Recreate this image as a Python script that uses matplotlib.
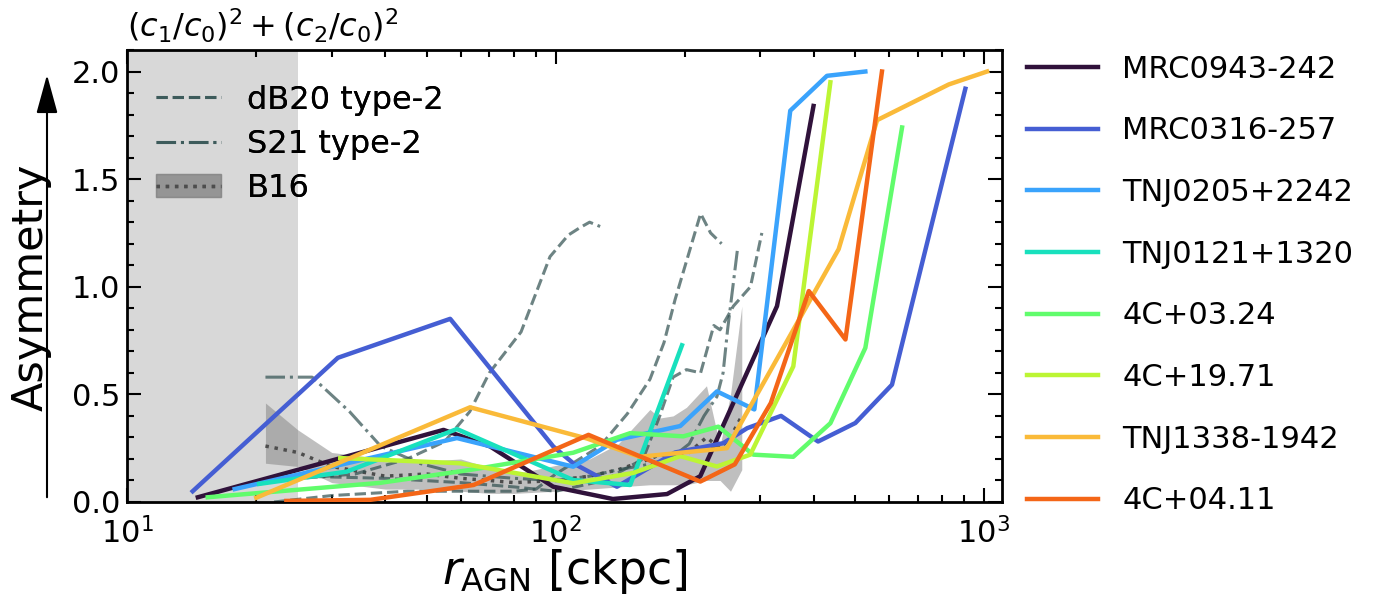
import numpy as np
import matplotlib
matplotlib.use('Agg')
import matplotlib.pyplot as plt
from matplotlib.lines import Line2D
from matplotlib.patches import Patch
from matplotlib.ticker import MultipleLocator, LogLocator, NullFormatter

# ---------------- data ----------------
names = ['MRC0943-242', 'MRC0316-257', 'TNJ0205+2242', 'TNJ0121+1320',
         '4C+03.24', '4C+19.71', 'TNJ1338-1942', '4C+04.11']

r_mrc0943 = [14.6, 54.7, 70.3, 98.7, 136, 182, 217.6, 328.7, 400]
a_mrc0943 = [0.022, 0.335, 0.258, 0.071, 0.014, 0.037, 0.12, 0.91, 1.84]

r_mrc0316 = [14.2, 31.0, 56.7, 98.7, 109.9, 139, 190, 246, 280, 336, 410, 501, 610, 905]
a_mrc0316 = [0.05, 0.67, 0.851, 0.258, 0.18, 0.071, 0.23, 0.273, 0.343, 0.40, 0.281, 0.367, 0.545, 1.92]

r_tnj0205 = [17.8, 58.8, 109.9, 139, 195.4, 238, 291, 353, 430, 528.6]
a_tnj0205 = [0.06, 0.297, 0.164, 0.289, 0.353, 0.514, 0.43, 1.818, 1.98, 2.0]

r_tnj0121 = [20.3, 32.5, 58.8, 109.9, 149.3, 197.2]
a_tnj0121 = [0.084, 0.141, 0.339, 0.102, 0.079, 0.728]

r_4c0324 = [15.4, 38.9, 63.1, 109.9, 149.3, 198.6, 239.8, 289.3, 358.8, 438, 528.6, 644]
a_4c0324 = [0.022, 0.089, 0.149, 0.229, 0.32, 0.305, 0.35, 0.22, 0.21, 0.366, 0.716, 1.74]

r_4c1971 = [31.4, 59.8, 109.9, 151.7, 195.4, 238, 284.7, 358.8, 438]
a_4c1971 = [0.204, 0.18, 0.087, 0.135, 0.213, 0.165, 0.22, 0.63, 1.95]

r_tnj1338 = [20.0, 63.1, 118.3, 157, 251, 458, 563, 828, 1017]
a_tnj1338 = [0.02, 0.44, 0.295, 0.21, 0.25, 1.175, 1.774, 1.94, 2.0]

r_4c0411 = [23.5, 36.9, 64.3, 119.3, 217.6, 262, 318, 390, 475, 578]
a_4c0411 = [0.005, 0.01, 0.079, 0.312, 0.095, 0.175, 0.46, 0.98, 0.755, 2.0]

# dB20 type-2 (dashed)
r_db20_a = [22, 34, 45, 55, 63, 70, 83, 97, 107, 114, 120, 127]
a_db20_a = [0.10, 0.13, 0.20, 0.28, 0.42, 0.60, 0.79, 1.14, 1.24, 1.275, 1.30, 1.28]
r_db20_b = [22, 30, 45, 60, 80, 90, 100, 127, 147, 166, 179, 190, 218, 230, 244]
a_db20_b = [0.0, 0.03, 0.05, 0.05, 0.05, 0.06, 0.13, 0.26, 0.41, 0.57, 0.74, 0.94, 1.34, 1.25, 1.20]
r_db20_c = [25, 40, 60, 80, 100, 130, 160, 175, 188, 202, 218, 234, 242, 260, 285, 303]
a_db20_c = [0.12, 0.11, 0.09, 0.07, 0.05, 0.10, 0.20, 0.40, 0.58, 0.615, 0.60, 0.82, 0.80, 0.91, 1.0, 1.25]

# S21 type-2 (dash-dot)
r_s21 = [21, 27, 33, 39, 48, 60, 80, 100, 120, 140, 160, 185, 205, 222, 238, 246, 252, 266]
a_s21 = [0.58, 0.58, 0.42, 0.26, 0.18, 0.13, 0.11, 0.10, 0.12, 0.15, 0.17, 0.20, 0.27, 0.40, 0.49, 0.60, 0.80, 1.18]

# B16 (dotted median + band)
r_b16 = [21, 25, 30, 40, 50, 60, 70, 80, 100, 120, 140, 166, 175, 188, 202, 225, 242, 256, 272]
a_b16 = [0.26, 0.23, 0.165, 0.12, 0.13, 0.11, 0.10, 0.09, 0.10, 0.12, 0.15, 0.20, 0.22, 0.21, 0.22, 0.30, 0.25, 0.30, 0.40]
lo_b16 = [0.18, 0.165, 0.09, 0.06, 0.06, 0.05, 0.04, 0.04, 0.05, 0.06, 0.07, 0.08, 0.08, 0.08, 0.08, 0.10, 0.10, 0.05, 0.15]
hi_b16 = [0.46, 0.335, 0.23, 0.20, 0.19, 0.20, 0.16, 0.13, 0.17, 0.20, 0.27, 0.43, 0.39, 0.40, 0.44, 0.54, 0.26, 0.50, 0.91]

excluded_r = [10, 25]

# ---------------- plot ----------------
fig = plt.figure(figsize=(13.81, 6.03), dpi=100)
ax = fig.add_axes([0.0923, 0.1675, 0.6330, 0.7496])
ax.set_xscale('log')

ax.axvspan(excluded_r[0], excluded_r[1], color='0.5', alpha=0.3, lw=0, zorder=0)

ref_col = 'darkslategray'
ax.fill_between(r_b16, lo_b16, hi_b16, color='gray', alpha=0.5, lw=0, zorder=1)
ax.plot(r_b16, a_b16, ls=':', color='0.3', lw=2.5, zorder=2)
for rr, aa in [(r_db20_a, a_db20_a), (r_db20_b, a_db20_b), (r_db20_c, a_db20_c)]:
    ax.plot(rr, aa, ls='--', color=ref_col, alpha=0.7, lw=2.2, zorder=2)
ax.plot(r_s21, a_s21, ls='-.', color=ref_col, alpha=0.7, lw=2.2, zorder=2)

series = [(r_mrc0943, a_mrc0943), (r_mrc0316, a_mrc0316), (r_tnj0205, a_tnj0205),
          (r_tnj0121, a_tnj0121), (r_4c0324, a_4c0324), (r_4c1971, a_4c1971),
          (r_tnj1338, a_tnj1338), (r_4c0411, a_4c0411)]
cmap_pos = [0.0, 0.107, 0.214, 0.321, 0.429, 0.536, 0.665, 0.785]
colors = plt.get_cmap('turbo')(cmap_pos)
handles = []
for (rr, aa), c, n in zip(series, colors, names):
    h, = ax.plot(rr, aa, color=c, lw=3.2, label=n, zorder=3)
    handles.append(h)

ax.set_xlim(10, 1100)
ax.set_ylim(0, 2.1)
ax.set_yticks([0, 0.5, 1.0, 1.5, 2.0])
ax.yaxis.set_minor_locator(MultipleLocator(0.1))
ax.xaxis.set_major_locator(LogLocator(base=10, numticks=10))
ax.xaxis.set_minor_locator(LogLocator(base=10, subs=np.arange(2, 10), numticks=20))
ax.xaxis.set_minor_formatter(NullFormatter())
ax.tick_params(which='both', direction='in', top=True, right=True, width=1.5)
ax.tick_params(which='major', length=10, labelsize=22)
ax.tick_params(which='minor', length=5)
ax.tick_params(axis='x', which='major', pad=11)
ax.tick_params(axis='y', which='major', pad=5)
for s in ax.spines.values():
    s.set_linewidth(2)

ax.set_xlabel(r'$r_{\rm AGN}$ [ckpc]', fontsize=33, labelpad=-2)
ax.text(0, 1.012, r'$(c_1/c_0)^2 + (c_2/c_0)^2$', transform=ax.transAxes,
        fontsize=23, ha='left', va='bottom')

fig.text(0.0225, 0.523, 'Asymmetry', rotation=90, fontsize=31, ha='center', va='center')
ax.annotate('', xy=(47 / 1381, 1 - 72 / 603), xytext=(47 / 1381, 1 - 500 / 603),
            xycoords='figure fraction', textcoords='figure fraction',
            arrowprops=dict(arrowstyle='-|>,head_length=1.2,head_width=0.33',
                            mutation_scale=20, lw=1.5, color='k'))

ref_handles = [Line2D([], [], ls='--', color=ref_col, alpha=0.7, lw=2.2),
               Line2D([], [], ls='-.', color=ref_col, alpha=0.7, lw=2.2),
               (Patch(facecolor='gray', alpha=0.5, edgecolor='gray'),
                Line2D([], [], ls=':', color='0.3', lw=2.5))]
leg1 = ax.legend(ref_handles, ['dB20 type-2', 'S21 type-2', 'B16'], loc='upper left',
                 frameon=False, fontsize=23, handlelength=2.04, labelspacing=0.41,
                 bbox_to_anchor=(0.0, 0.987))
ax.add_artist(leg1)

fig.legend(handles, names, loc='upper left', bbox_to_anchor=(0.724, 0.955),
           frameon=False, fontsize=22, handlelength=2.3, labelspacing=1.07)

fig.savefig('out.png', dpi=100)
